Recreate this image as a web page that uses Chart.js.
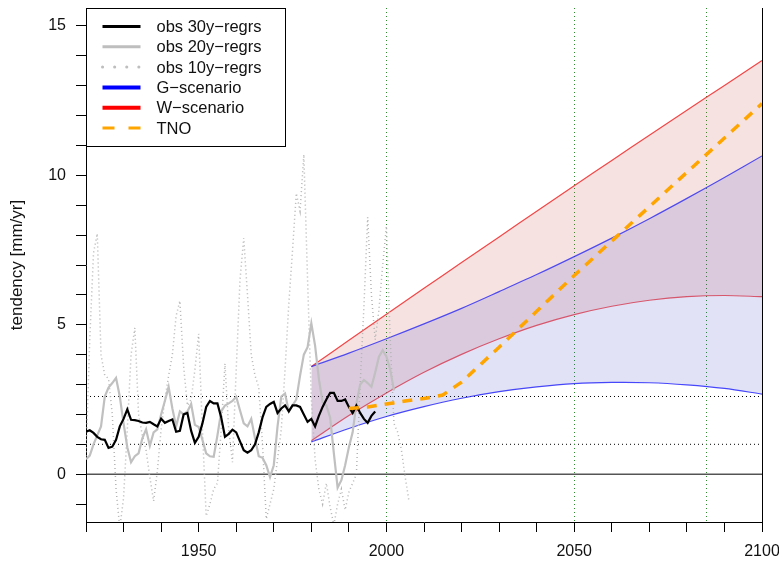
<!DOCTYPE html>
<html>
<head>
<meta charset="utf-8">
<script src="https://cdn.jsdelivr.net/npm/chart.js@4.4.0/dist/chart.umd.min.js"></script>
<style>
  html, body { margin: 0; padding: 0; background: #fff; }
</style>
</head>
<body>
<canvas id="myChart" width="779" height="564"></canvas>
<script>
// observed tendencies, one value per year starting at obsStart
const obsStart = 1920;
const obs30 = [1.42, 1.47, 1.38, 1.25, 1.17, 1.15, 0.88, 0.92, 1.15, 1.6,
               1.85, 2.17, 1.82, 1.81, 1.78, 1.73, 1.72, 1.75, 1.67, 1.6,
               1.86, 1.72, 1.78, 1.83, 1.42, 1.45, 2.0, 2.05, 1.45, 1.05,
               1.25, 1.7, 2.25, 2.45, 2.37, 2.37, 1.9, 1.25, 1.35, 1.49,
               1.4, 1.1, 0.8, 0.72, 0.8, 1.0, 1.4, 1.9, 2.25, 2.35,
               2.42, 2.05, 2.2, 2.3, 2.1, 2.3, 2.3, 2.25, 2.0, 1.75,
               1.85, 1.6, 1.95, 2.25, 2.5, 2.72, 2.72, 2.45, 2.45, 2.5,
               2.25, 2.05, 2.3, 2.05, 1.85, 1.72, 1.95, 2.1];
const obs20 = [0.5, 0.62, 1.0, 1.3, 1.6, 2.6, 2.9, 3.05, 3.22, 2.6,
               1.7, 0.9, 0.4, 0.6, 0.7, 1.2, 1.5, 0.95, 1.4, 1.5,
               2.0, 2.45, 2.92, 2.2, 1.6, 2.1, 2.0, 2.1, 2.35, 1.65,
               1.58, 1.15, 0.7, 0.6, 0.58, 1.3, 2.1, 2.3, 2.37, 2.45,
               2.59, 2.14, 1.7, 1.6, 1.85, 1.2, 0.6, 0.55, 0.3, -0.1,
               0.3, 1.6, 2.6, 2.7, 2.1, 2.3, 2.5, 3.3, 4.0, 4.25,
               5.05, 4.3, 3.2, 2.4, 2.3, 1.9, 0.7, -0.45, -0.2, 0.3,
               0.9, 1.4, 2.37, 3.0, 3.15, 3.05, 2.92, 3.4, 3.93, 4.15,
               3.93, 3.5, 2.8];
const obs10 = [0.6, 4.5, 7.4, 8.05, 4.0, 3.3, 3.2, 2.0, -0.5, -1.8,
               -0.8, 1.5, 4.0, 4.9, 2.0, 1.3, 0.8, -0.1, -0.9, 0.1,
               1.5, 2.5, 3.3, 4.0, 5.3, 5.8, 3.6, 2.3, 2.5, 3.5,
               4.7, 1.5, -1.4, -1.0, -0.5, -0.3, 1.5, 3.7, 1.5, 0.4,
               3.5, 6.5, 7.9, 6.0, 4.0, 3.3, 2.9, 1.0, -1.5, -1.0,
               -0.5, 0.5, 1.5, 3.5, 5.7, 7.5, 9.4, 8.8, 10.7, 6.5,
               2.5, 0.5, -0.5, -1.0, -0.3, -1.1, -1.7, -1.0, -0.5, -1.2,
               -0.6, -0.3, 0.0, 3.0, 5.6, 8.6, 6.0, 4.5, 5.5, 7.0,
               8.3, 4.5, 1.7, 1.4, 0.8, -0.1, -0.9];

// scenario bands
const scenYears = [1980, 1990, 2000, 2010, 2020, 2030, 2040, 2050, 2060, 2070, 2080, 2090, 2100];
const gUpper = [3.6, 4.05, 4.53, 5.03, 5.55, 6.11, 6.68, 7.28, 7.9, 8.55, 9.23, 9.93, 10.65];
const gLower = [1.08, 1.53, 1.93, 2.26, 2.54, 2.76, 2.92, 3.03, 3.07, 3.06, 2.99, 2.87, 2.68];
const wUpper = [3.6, 4.48, 5.35, 6.22, 7.08, 7.94, 8.8, 9.65, 10.5, 11.34, 12.18, 13.01, 13.84];
const wLower = [1.12, 1.96, 2.72, 3.41, 4.01, 4.53, 4.98, 5.34, 5.62, 5.82, 5.94, 5.98, 5.94];

const tnoYears = [1990, 1995, 2000, 2005, 2010, 2015, 2020, 2030, 2040, 2050, 2060, 2070, 2080, 2090, 2100];
const tnoValues = [2.2, 2.25, 2.35, 2.45, 2.53, 2.65, 3.08, 4.25, 5.45, 6.65, 7.8, 8.95, 10.1, 11.25, 12.4];

// reference lines and axes
const dottedLevels = [1.0, 2.6];
const markYears = [2000, 2050, 2085];
const xTicks = [1920, 1930, 1940, 1950, 1960, 1970, 1980, 1990, 2000, 2010, 2020, 2030, 2040,
                2050, 2060, 2070, 2080, 2090, 2100];
const xLabels = [1950, 2000, 2050, 2100];
const yTicks = [-1, 0, 1, 2, 3, 4, 5, 6, 7, 8, 9, 10, 11, 12, 13, 14, 15];
const yLabels = [0, 5, 10, 15];

const legendItems = [
    {text: 'obs 30y\u2212regrs', color: '#000000', width: 3, dash: []},
    {text: 'obs 20y\u2212regrs', color: '#bebebe', width: 3, dash: []},
    {text: 'obs 10y\u2212regrs', color: '#bebebe', width: 3, dash: [0.1, 12], cap: 'round'},
    {text: 'G\u2212scenario', color: '#0000ff', width: 4, dash: []},
    {text: 'W\u2212scenario', color: '#ff0000', width: 4, dash: []},
    {text: 'TNO', color: '#ffa500', width: 3, dash: [12, 14]}
];

function series(start, vals) {
    return vals.map((v, i) => ({x: start + i, y: v}));
}
function pairs(xs, ys) {
    return xs.map((x, i) => ({x: x, y: ys[i]}));
}

// dotted/solid helper lines, drawn under the data
const refLines = {
    id: 'refLines',
    beforeDatasetsDraw(chart) {
        const {ctx, chartArea: a, scales: {x, y}} = chart;
        ctx.save();
        ctx.lineWidth = 1;
        ctx.strokeStyle = '#000';
        ctx.beginPath();
        ctx.moveTo(a.left, y.getPixelForValue(0));
        ctx.lineTo(a.right, y.getPixelForValue(0));
        ctx.stroke();
        ctx.setLineDash([1, 3]);
        dottedLevels.forEach(v => {
            ctx.beginPath();
            ctx.moveTo(a.left, y.getPixelForValue(v));
            ctx.lineTo(a.right, y.getPixelForValue(v));
            ctx.stroke();
        });
        ctx.strokeStyle = '#2e8b2e';
        markYears.forEach(yr => {
            let px = Math.round(x.getPixelForValue(yr)) + 0.5;
            ctx.beginPath();
            ctx.moveTo(px, a.top);
            ctx.lineTo(px, a.bottom);
            ctx.stroke();
        });
        ctx.restore();
    }
};

// right border and the boxed legend in the top-left corner
const boxLegend = {
    id: 'boxLegend',
    afterDraw(chart) {
        const {ctx, chartArea: a} = chart;
        ctx.save();
        ctx.strokeStyle = '#000';
        ctx.lineWidth = 1;
        ctx.beginPath();
        ctx.moveTo(a.right + 0.5, a.top);
        ctx.lineTo(a.right + 0.5, a.bottom);
        ctx.stroke();

        let bx = a.left + 0.5, by = a.top + 0.5, bw = 199, bh = 138;
        ctx.fillStyle = '#fff';
        ctx.fillRect(bx, by, bw, bh);
        ctx.strokeRect(bx, by, bw, bh);
        ctx.font = '16.5px "Liberation Sans", Arial, sans-serif';
        ctx.textBaseline = 'middle';
        legendItems.forEach((it, i) => {
            let ly = by + 18 + i * 20.3;
            ctx.beginPath();
            ctx.strokeStyle = it.color;
            ctx.lineWidth = it.width;
            ctx.lineCap = it.cap || 'butt';
            ctx.setLineDash(it.dash);
            ctx.moveTo(bx + 16, ly);
            ctx.lineTo(bx + 54, ly);
            ctx.stroke();
            ctx.setLineDash([]);
            ctx.fillStyle = '#111';
            ctx.fillText(it.text, bx + 70, ly + 1);
        });
        ctx.restore();
    }
};

window.addEventListener('load', function() {
    let ctx = document.getElementById('myChart').getContext('2d');
    Chart.defaults.font.family = '"Liberation Sans", Arial, sans-serif';
    Chart.defaults.font.size = 16;
    Chart.defaults.color = '#111';

    let chart = new Chart(ctx, {
        type: 'line',
        data: {
            datasets: [
                {   // 0: W upper, filled down to W lower
                    data: pairs(scenYears, wUpper),
                    borderColor: 'rgba(240,40,40,0.85)', borderWidth: 1.2,
                    backgroundColor: 'rgba(200,60,60,0.15)',
                    fill: 1, tension: 0.3, order: 10
                },
                {   // 1: W lower
                    data: pairs(scenYears, wLower),
                    borderColor: 'rgba(240,40,40,0.75)', borderWidth: 1.2,
                    fill: false, tension: 0.3, order: 10
                },
                {   // 2: G upper, filled down to G lower
                    data: pairs(scenYears, gUpper),
                    borderColor: 'rgba(40,40,240,0.8)', borderWidth: 1.2,
                    backgroundColor: 'rgba(60,60,200,0.15)',
                    fill: 3, tension: 0.3, order: 9
                },
                {   // 3: G lower
                    data: pairs(scenYears, gLower),
                    borderColor: 'rgba(40,40,255,0.85)', borderWidth: 1.2,
                    fill: false, tension: 0.3, order: 9
                },
                {
                    label: 'obs 10y-regrs',
                    data: series(obsStart, obs10),
                    borderColor: '#b4b4b4', borderWidth: 1.5,
                    borderDash: [1, 3], fill: false, order: 5
                },
                {
                    label: 'obs 20y-regrs',
                    data: series(obsStart, obs20),
                    borderColor: '#c0c0c0', borderWidth: 2.2,
                    fill: false, order: 4
                },
                {
                    label: 'obs 30y-regrs',
                    data: series(obsStart, obs30),
                    borderColor: '#000', borderWidth: 2.2,
                    fill: false, order: 3
                },
                {
                    label: 'TNO',
                    data: pairs(tnoYears, tnoValues),
                    borderColor: '#ffa500', borderWidth: 3.5,
                    borderDash: [10, 8], fill: false, order: 1
                }
            ]
        },
        options: {
            responsive: false,
            animation: false,
            layout: {padding: {top: 8, right: 17, left: 0, bottom: 0}},
            elements: {point: {radius: 0, hoverRadius: 0}},
            plugins: {
                legend: {display: false},
                tooltip: {enabled: false}
            },
            scales: {
                x: {
                    type: 'linear', min: 1920, max: 2100,
                    afterBuildTicks: s => { s.ticks = xTicks.map(v => ({value: v})); },
                    afterFit: s => { s.height = 42; s.paddingLeft = 0; s.paddingRight = 0; },
                    grid: {drawOnChartArea: false, tickLength: 10, color: '#000'},
                    border: {display: true, color: '#000'},
                    ticks: {
                        autoSkip: false, maxRotation: 0, padding: 10,
                        callback: v => xLabels.includes(v) ? String(v) : ''
                    }
                },
                y: {
                    min: -1.6, max: 15.6,
                    afterBuildTicks: s => { s.ticks = yTicks.map(v => ({value: v})); },
                    afterFit: s => { s.width = 86; s.paddingTop = 0; s.paddingBottom = 0; },
                    grid: {drawOnChartArea: false, tickLength: 10, color: '#000'},
                    border: {display: true, color: '#000'},
                    ticks: {
                        autoSkip: false, padding: 10,
                        callback: v => yLabels.includes(v) ? String(v) : ''
                    },
                    title: {
                        display: true, text: 'tendency [mm/yr]',
                        font: {size: 17}, padding: {top: 7, bottom: 0}
                    }
                }
            }
        },
        plugins: [refLines, boxLegend]
    });
});
</script>
</body>
</html>
